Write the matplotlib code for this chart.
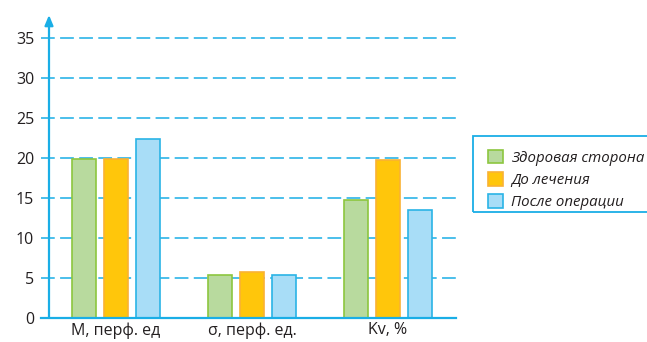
import matplotlib
matplotlib.use("Agg")
import matplotlib.pyplot as plt
import numpy as np
from matplotlib.patches import Rectangle

categories = ["M, перф. ед", "σ, перф. ед.", "Kv, %"]
series_names = ["Здоровая сторона", "До лечения", "После операции"]
healthy = [19.9, 5.35, 14.7]
before = [19.9, 5.7, 19.75]
after = [22.4, 5.35, 13.5]
yticks = [0, 5, 10, 15, 20, 25, 30, 35]

fills = ["#b8da9e", "#ffc60b", "#a8ddf7"]
edges = ["#8cc63f", "#f9b233", "#2ab4e6"]
axis_col = "#1aaee6"

plt.rcParams['font.family'] = ['Open Sans', 'DejaVu Sans']

W, H = 647, 342
fig = plt.figure(figsize=(W / 100, H / 100), dpi=100)
x0, x1 = 48, 456
ybot, ytop = 318, 15
ax = fig.add_axes([x0 / W, (H - ybot) / H, (x1 - x0) / W, (ybot - ytop) / H])
ymax = (ybot - ytop) / 8.0
ax.set_xlim(-0.5, 2.5)
ax.set_ylim(0, ymax)

x = np.arange(len(categories))
bw = 0.176
off = 0.235
for i, vals in enumerate([healthy, before, after]):
    ax.bar(x + (i - 1) * off, vals, bw, color=fills[i], edgecolor=edges[i],
           linewidth=1.2, label=series_names[i], zorder=3)

# dashed gridlines (with tick stubs left of the axis)
xl = -0.5 - 7 / 136
for yv in yticks[1:]:
    ax.plot([xl, 2.5], [yv, yv], color=axis_col, lw=1.1,
            linestyle=(0, (9, 3.5)), clip_on=False, zorder=1)

for s in ["top", "right", "bottom", "left"]:
    ax.spines[s].set_visible(False)
# x axis line
ax.plot([xl, 2.5], [0, 0], color=axis_col, lw=1.6, clip_on=False, zorder=4)
# y axis with arrow
ax.annotate("", xy=(-0.5 + 1 / 136, ymax), xytext=(-0.5 + 1 / 136, 0),
            xycoords="data", annotation_clip=False,
            arrowprops=dict(arrowstyle="-|>,head_length=0.6,head_width=0.25",
                            color=axis_col, lw=1.6, shrinkA=0, shrinkB=0))

ax.set_yticks(yticks)
ax.set_yticklabels([str(v) for v in yticks])
ax.set_xticks(x)
ax.set_xticklabels(categories)
ax.tick_params(axis="y", length=0, pad=10, labelsize=11.5, colors="#231f20")
ax.tick_params(axis="x", length=0, pad=3, labelsize=11.5, colors="#231f20")

# legend box
fig.patches.append(Rectangle((473 / W, (H - 212) / H), (W + 10 - 473) / W, 76 / H,
                             transform=fig.transFigure, fill=False,
                             edgecolor=axis_col, lw=1.3))
leg = fig.legend(loc="upper left", bbox_to_anchor=(477 / W, (H - 139) / H),
                 frameon=False, handlelength=1.05, handleheight=1.05,
                 handletextpad=0.5, labelspacing=0.42, borderpad=0.2,
                 prop={"style": "italic", "size": 10.8})
for t in leg.get_texts():
    t.set_color("#231f20")

fig.savefig("out.png", dpi=100)
